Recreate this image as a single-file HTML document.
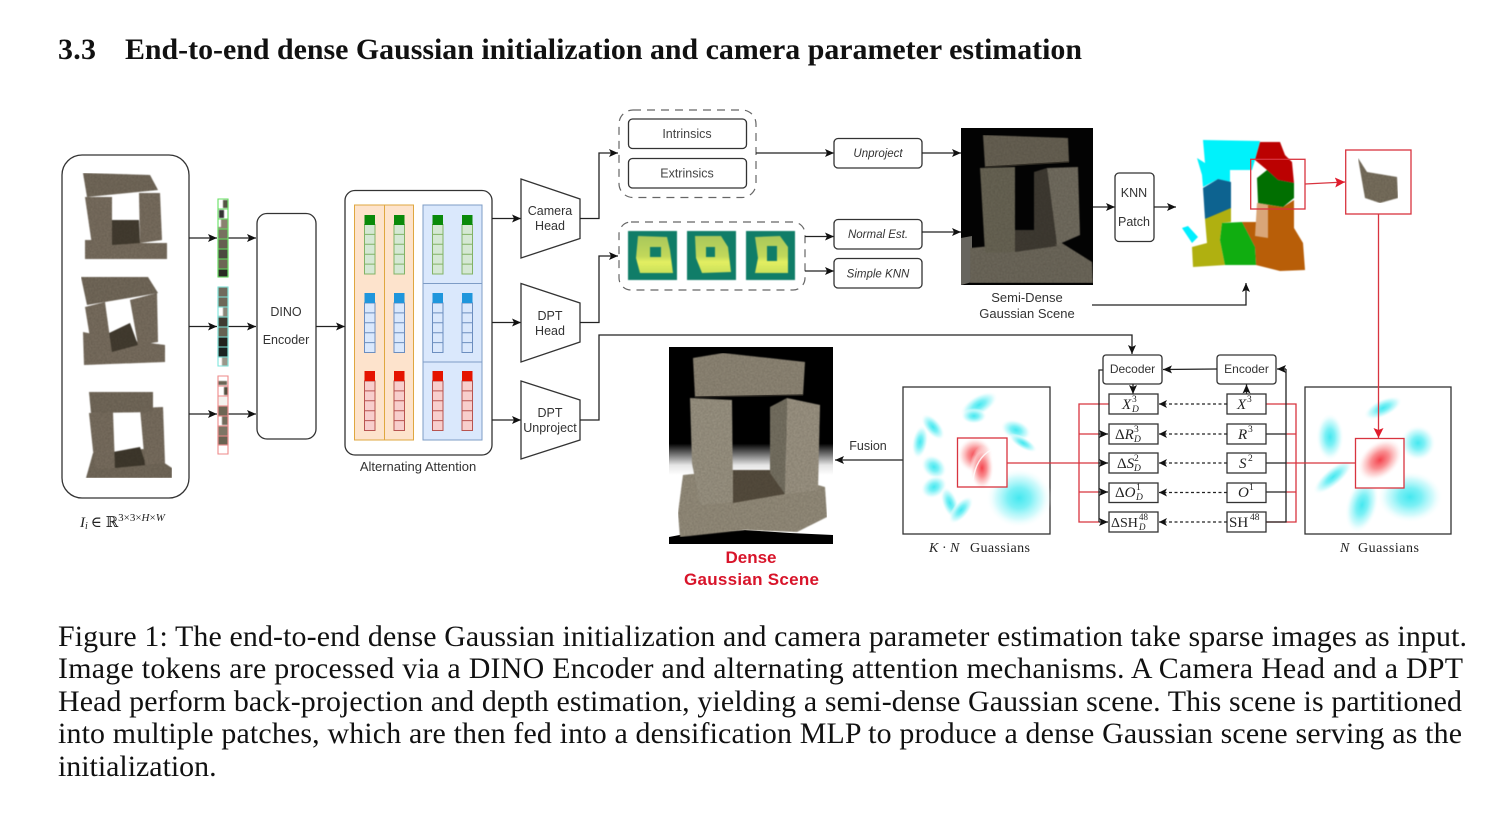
<!DOCTYPE html>
<html><head><meta charset="utf-8"><style>
html,body{margin:0;padding:0;background:#fff}
svg{display:block}
.s{font-family:"Liberation Sans",sans-serif;font-size:12.5px;fill:#333;text-anchor:middle}
.t{font-family:"Liberation Serif",serif;font-size:29.9px;fill:#111}
.m{font-family:"Liberation Serif","DejaVu Serif",serif;fill:#222}
.i{font-style:italic}
.l{fill:none;stroke:#222;stroke-width:1.3}
.r{fill:none;stroke:#d8343f;stroke-width:1.3}
.b{fill:#fff;stroke:#333;stroke-width:1.3}
</style></head><body>
<svg xmlns="http://www.w3.org/2000/svg" width="1511" height="813" viewBox="0 0 1511 813">
<defs>
<marker id="a" markerUnits="userSpaceOnUse" markerWidth="12" markerHeight="10" refX="9" refY="5" orient="auto"><path d="M0 1L9 5L0 9L2 5z" fill="#111"/></marker>
<marker id="ar" markerUnits="userSpaceOnUse" markerWidth="13" markerHeight="12" refX="10" refY="6" orient="auto"><path d="M0 1L10 6L0 11L2 6z" fill="#e01c2c"/></marker>
<filter id="st" x="0" y="0" width="100%" height="100%" color-interpolation-filters="sRGB"><feTurbulence type="fractalNoise" baseFrequency="0.7" numOctaves="2" seed="4" result="n"/><feColorMatrix in="n" type="matrix" values="0 0 0 0 0.1 0 0 0 0 0.08 0 0 0 0 0.05 0.4 0 0 0 -0.08" result="d"/><feComposite in="d" in2="SourceAlpha" operator="in" result="dd"/><feMerge result="m"><feMergeNode in="SourceGraphic"/><feMergeNode in="dd"/></feMerge><feGaussianBlur in="m" stdDeviation="0.6"/></filter>
<filter id="bl" color-interpolation-filters="sRGB"><feGaussianBlur stdDeviation="0.6"/></filter>
<radialGradient id="cy"><stop offset="0" stop-color="#45e8f0"/><stop offset=".35" stop-color="#7cf0f5"/><stop offset=".7" stop-color="#c8f9fb" stop-opacity=".8"/><stop offset="1" stop-color="#fff" stop-opacity="0"/></radialGradient>
<radialGradient id="rd"><stop offset="0" stop-color="#f4444e"/><stop offset=".4" stop-color="#f98f92"/><stop offset=".72" stop-color="#fdd4d4" stop-opacity=".8"/><stop offset="1" stop-color="#fff" stop-opacity="0"/></radialGradient>
<linearGradient id="dn" x1="0" y1="0" x2="0" y2="1"><stop offset="0" stop-color="#000"/><stop offset=".49" stop-color="#000"/><stop offset=".6" stop-color="#e5e5e5"/><stop offset=".65" stop-color="#fff"/><stop offset="1" stop-color="#fff"/></linearGradient>
<linearGradient id="yl" x1="0" y1="0" x2="0" y2="1"><stop offset="0" stop-color="#a9c85c"/><stop offset=".55" stop-color="#c2d85a"/><stop offset=".7" stop-color="#e3ef62"/><stop offset="1" stop-color="#cbe05a"/></linearGradient>
<path id="c" d="M0 0h10.5v49.5h-10.5zM0 9.9h10.5M0 19.8h10.5M0 29.7h10.5M0 39.6h10.5"/>
</defs>
<rect width="1511" height="813" fill="#fff"/>

<!-- heading -->
<text class="t" x="58" y="59" font-weight="bold" textLength="38">3.3</text>
<text class="t" x="125" y="59" font-weight="bold" textLength="957">End-to-end dense Gaussian initialization and camera parameter estimation</text>

<!-- input box -->
<rect class="b" x="62" y="155" width="127" height="343" rx="20"/>
<g filter="url(#st)">
<polygon fill="#7d7263" points="85,240 112,240 140,243 167,243 167,259 85,259"/>
<polygon fill="#453e32" points="112,220 139,220 140,243 112,245"/>
<polygon fill="#7d7263" points="85,197 112,197 112,245 92,245"/>
<polygon fill="#7d7263" points="139,193 160,193 162,240 140,243"/>
<polygon fill="#776d5e" points="83,173 150,175 158,190 87,197"/>
<polygon fill="#7d7263" points="83,332 112,338 165,345 165,362 84,365"/>
<polygon fill="#453e32" points="105,335 130,323 138,345 112,352"/>
<polygon fill="#7d7263" points="85,307 105,302 112,353 93,356"/>
<polygon fill="#7d7263" points="130,300 157,293 158,342 138,345"/>
<polygon fill="#776d5e" points="81,277 148,277 158,293 87,305"/>
<polygon fill="#776d5e" points="93,453 113,453 143,449 163,462 172,468 172,478 86,478"/>
<polygon fill="#403a2e" points="113,452 140,447 146,465 115,468"/>
<polygon fill="#7d7263" points="89,413 113,412 115,468 95,469"/>
<polygon fill="#7d7263" points="140,408 163,407 165,463 145,465"/>
<polygon fill="#776d5e" points="89,392 153,392 153,412 91,413"/>
</g>
<text class="m" x="80" y="527" font-size="15"><tspan class="i">I</tspan><tspan class="i" font-size="10" dy="2">i</tspan><tspan dy="-2" dx="3">∈ ℝ</tspan><tspan font-size="11" dy="-6">3×3×<tspan class="i">H</tspan>×<tspan class="i">W</tspan></tspan></text>

<!-- arrows -->
<line class="l" x1="189" y1="238" x2="217" y2="238" marker-end="url(#a)"/>
<line class="l" x1="189" y1="326.5" x2="217" y2="326.5" marker-end="url(#a)"/>
<line class="l" x1="189" y1="414" x2="217" y2="414" marker-end="url(#a)"/>
<line class="l" x1="228" y1="238" x2="256" y2="238" marker-end="url(#a)"/>
<line class="l" x1="228" y1="326.5" x2="256" y2="326.5" marker-end="url(#a)"/>
<line class="l" x1="228" y1="414" x2="256" y2="414" marker-end="url(#a)"/>

<!-- token strips -->
<g filter="url(#bl)">
<rect x="218" y="199" width="10" height="78" fill="#777"/>
<rect x="218" y="199" width="10" height="10" fill="#fff"/><rect x="223" y="200" width="5" height="8" fill="#554"/>
<rect x="218" y="209" width="10" height="10" fill="#fff"/><rect x="219" y="210" width="5" height="8" fill="#333"/>
<rect x="218" y="219" width="10" height="10" fill="#8a8270"/><rect x="218" y="219" width="3" height="8" fill="#fff"/>
<rect x="218" y="229" width="10" height="10" fill="#77715f"/><rect x="218" y="239" width="10" height="10" fill="#666050"/>
<rect x="218" y="249" width="10" height="10" fill="#4c4a3f"/><rect x="218" y="259" width="10" height="10" fill="#6c6654"/>
<rect x="218" y="269" width="10" height="8" fill="#2a2a24"/>
<rect x="218" y="287" width="10" height="10" fill="#706a5c"/><rect x="218" y="297" width="10" height="10" fill="#6e6858"/>
<rect x="218" y="307" width="10" height="10" fill="#8a8678"/><rect x="218" y="307" width="5" height="9" fill="#fff"/>
<rect x="218" y="317" width="10" height="10" fill="#3f3c32"/><rect x="218" y="327" width="10" height="10" fill="#666252"/>
<rect x="218" y="337" width="10" height="10" fill="#22221d"/><rect x="218" y="347" width="10" height="10" fill="#1a2220"/>
<rect x="218" y="357" width="10" height="9" fill="#9a978a"/><rect x="218" y="357" width="4" height="9" fill="#fff"/>
<rect x="218" y="376" width="10" height="10" fill="#fff"/><rect x="218" y="381" width="9" height="4" fill="#6a6555"/>
<rect x="218" y="386" width="10" height="10" fill="#fff"/><rect x="224" y="387" width="4" height="8" fill="#554f40"/>
<rect x="218" y="396" width="10" height="10" fill="#f4f2ee"/><rect x="218" y="406" width="10" height="10" fill="#6e6654"/>
<rect x="218" y="416" width="10" height="10" fill="#fff"/><rect x="222" y="416" width="6" height="9" fill="#736c5b"/>
<rect x="218" y="426" width="10" height="10" fill="#7d7564"/><rect x="218" y="436" width="10" height="9" fill="#6a6352"/>
<rect x="218" y="445" width="10" height="9" fill="#fff"/>
</g>
<path d="M218 199h10v78h-10zM218 209h10M218 219h10M218 229h10M218 239h10M218 249h10M218 259h10M218 269h10" fill="none" stroke="#65e060" stroke-width="1.1"/>
<path d="M218 287h10v79h-10zM218 297h10M218 307h10M218 317h10M218 327h10M218 337h10M218 347h10M218 357h10" fill="none" stroke="#7de5dc" stroke-width="1.1"/>
<path d="M218 376h10v78h-10zM218 386h10M218 396h10M218 406h10M218 416h10M218 426h10M218 436h10M218 445h10" fill="none" stroke="#ee8a8a" stroke-width="1.1"/>

<!-- DINO -->
<rect class="b" x="257" y="213.500" width="59" height="225.500" rx="10"/>
<text class="s" x="286" y="316">DINO</text>
<text class="s" x="286" y="344">Encoder</text>
<line class="l" x1="316" y1="326.500" x2="345" y2="326.500" marker-end="url(#a)"/>

<!-- Alternating attention -->
<rect class="b" x="345" y="190.500" width="147" height="264.500" rx="10"/>
<rect x="354.500" y="205" width="59" height="235" fill="#fde3cc" stroke="#dfa73f"/>
<line x1="384.500" y1="205" x2="384.500" y2="440" stroke="#dfa73f"/>
<rect x="423" y="205" width="59" height="235" fill="#dae8fc" stroke="#7d9cc6"/>
<path d="M423 283.500H482M423 362H482" stroke="#7d9cc6" fill="none"/>
<g fill="#d5e8d4" stroke="#82b366">
<use href="#c" x="364.500" y="224.500"/><use href="#c" x="394" y="224.500"/><use href="#c" x="432.500" y="224.500"/><use href="#c" x="462" y="224.500"/>
</g>
<g fill="#0a8a0a"><rect x="364.500" y="215" width="10.500" height="10"/><rect x="394" y="215" width="10.500" height="10"/><rect x="432.500" y="215" width="10.500" height="10"/><rect x="462" y="215" width="10.500" height="10"/></g>
<g fill="#dae8fc" stroke="#6c8ebf">
<use href="#c" x="364.500" y="303"/><use href="#c" x="394" y="303"/><use href="#c" x="432.500" y="303"/><use href="#c" x="462" y="303"/>
</g>
<g fill="#1f96dc"><rect x="364.500" y="293" width="10.500" height="10"/><rect x="394" y="293" width="10.500" height="10"/><rect x="432.500" y="293" width="10.500" height="10"/><rect x="462" y="293" width="10.500" height="10"/></g>
<g fill="#f8cecc" stroke="#b85450">
<use href="#c" x="364.500" y="381"/><use href="#c" x="394" y="381"/><use href="#c" x="432.500" y="381"/><use href="#c" x="462" y="381"/>
</g>
<g fill="#e51400"><rect x="364.500" y="371" width="10.500" height="10"/><rect x="394" y="371" width="10.500" height="10"/><rect x="432.500" y="371" width="10.500" height="10"/><rect x="462" y="371" width="10.500" height="10"/></g>
<text class="s" x="418" y="471" style="font-size:13px">Alternating Attention</text>

<line class="l" x1="492" y1="218.500" x2="521" y2="218.500" marker-end="url(#a)"/>
<line class="l" x1="492" y1="322.500" x2="521" y2="322.500" marker-end="url(#a)"/>
<line class="l" x1="492" y1="420" x2="521" y2="420" marker-end="url(#a)"/>

<!-- heads -->
<polygon class="b" points="521,179 580,199 580,238.500 521,258"/>
<polygon class="b" points="521,283.500 580,303 580,342 521,362"/>
<polygon class="b" points="521,381 580,400 580,440 521,459"/>
<text class="s" x="550" y="215">Camera</text><text class="s" x="550" y="230">Head</text>
<text class="s" x="550" y="320">DPT</text><text class="s" x="550" y="335">Head</text>
<text class="s" x="550" y="417">DPT</text><text class="s" x="550" y="432">Unproject</text>

<polyline class="l" points="580,218.500 599,218.500 599,153 618,153" marker-end="url(#a)"/>
<polyline class="l" points="580,322.500 599,322.500 599,256 618,256" marker-end="url(#a)"/>
<polyline class="l" points="580,420 599,420 599,335 1132,335 1132,354" marker-end="url(#a)"/>

<!-- camera params -->
<rect x="619" y="110" width="137" height="87.500" rx="14" fill="none" stroke="#666" stroke-width="1.200" stroke-dasharray="8 6"/>
<rect class="b" x="628.500" y="119" width="118" height="29.500" rx="4"/>
<rect class="b" x="628.500" y="158.500" width="118" height="29.500" rx="4"/>
<text class="s" x="687" y="138" style="fill:#444">Intrinsics</text>
<text class="s" x="687" y="177.500" style="fill:#444">Extrinsics</text>
<line class="l" x1="756" y1="153" x2="834" y2="153" marker-end="url(#a)"/>
<rect class="b" x="834" y="138.500" width="88" height="29.500" rx="4"/>
<text class="s i" x="878" y="157" style="font-size:11.500px">Unproject</text>
<line class="l" x1="922" y1="153" x2="961" y2="153" marker-end="url(#a)"/>

<!-- normal maps -->
<rect x="619" y="222" width="186" height="68" rx="12" fill="none" stroke="#666" stroke-width="1.200" stroke-dasharray="8 6"/>
<g filter="url(#bl)">
<rect x="628" y="231" width="49" height="49" fill="#107d68"/><rect x="687" y="231" width="49" height="49" fill="#107d68"/><rect x="746" y="231" width="49" height="49" fill="#107d68"/>
<polygon fill="url(#yl)" points="638,236 667,237 670,250 673,273 640,273 636,258"/>
<polygon fill="url(#yl)" points="695,236 721,236 728,247 731,272 702,273 696,258"/>
<polygon fill="url(#yl)" points="755,237 780,236 788,247 788,273 755,273 758,258"/>
<rect x="650" y="247" width="11" height="10" fill="#107d68"/><rect x="706" y="247" width="9" height="10" fill="#107d68"/><rect x="767" y="246" width="10" height="15" fill="#107d68"/>
</g>
<line class="l" x1="805" y1="236.500" x2="834" y2="236.500" marker-end="url(#a)"/>
<line class="l" x1="805" y1="271" x2="834" y2="271" marker-end="url(#a)"/>
<rect class="b" x="834" y="219.500" width="88" height="29.500" rx="4"/>
<rect class="b" x="834" y="258.500" width="88" height="29.500" rx="4"/>
<text class="s i" x="878" y="238" style="font-size:11.500px">Normal Est.</text>
<text class="s i" x="878" y="277.500" style="font-size:11.500px">Simple KNN</text>
<line class="l" x1="922" y1="232" x2="961" y2="232" marker-end="url(#a)"/>

<!-- semi-dense photo -->
<rect x="961" y="128" width="132" height="157" fill="#030303"/>
<polygon fill="#67655f" points="961,238 972,236 972,282 961,285"/>
<g filter="url(#st)">
<polygon fill="#716c5f" points="970,248 1057,240 1092,262 1093,283 970,283"/>
<polygon fill="#403c34" points="1015,230 1040,230 1057,246 1015,252"/>
<polygon fill="#6c6858" points="980,168 1015,167 1015,252 985,253"/>
<polygon fill="#403c34" points="1034,172 1047,168 1057,245 1034,232"/>
<polygon fill="#767164" points="1047,168 1078,167 1080,235 1057,245"/>
<polygon fill="#6b6557" points="983,135 1068,138 1069,162 985,167"/>
</g>
<line x1="985" y1="167" x2="1069" y2="162" stroke="#2e2a22" stroke-width="1.200"/>
<text class="s" x="1027" y="302" style="font-size:13px">Semi-Dense</text>
<text class="s" x="1027" y="318" style="font-size:13px">Gaussian Scene</text>
<polyline class="l" points="1092,305 1246,305 1246,283" marker-end="url(#a)"/>
<line class="l" x1="1093" y1="207" x2="1115" y2="207" marker-end="url(#a)"/>
<rect class="b" x="1115" y="173" width="39" height="68.500" rx="4"/>
<text class="s" x="1134" y="197">KNN</text><text class="s" x="1134" y="226">Patch</text>
<line class="l" x1="1154" y1="207" x2="1176" y2="207" marker-end="url(#a)"/>

<!-- segmented -->
<g filter="url(#bl)">
<polygon fill="#00f2fb" points="1203,140 1260,141 1255,160 1252,170 1230,170 1230,182 1218,179 1203,187 1202,175 1197,158 1205,163"/>
<polygon fill="#bb0101" points="1260,142 1280,142 1285,155 1292,162 1294,183 1278,180 1267,170 1255,160"/>
<polygon fill="#016f01" points="1267,170 1278,180 1294,183 1294,198 1283,207 1258,203 1257,178"/>
<polygon fill="#0d6390" points="1218,179 1231,182 1231,210 1205,219 1203,188"/>
<polygon fill="#b0b010" points="1205,219 1231,208 1231,222 1222,223 1220,240 1225,265 1193,267 1192,247 1207,243"/>
<polygon fill="#00efff" points="1182,228 1188,226 1198,237 1192,243"/>
<polygon fill="#10ad10" points="1222,223 1242,222 1255,247 1256,265 1225,265 1220,240"/>
<polygon fill="#b85e08" points="1242,222 1257,222 1257,203 1283,207 1294,200 1294,228 1303,243 1305,270 1280,271 1256,265 1255,247"/>
<polygon fill="#d9a679" points="1257,203 1268,205 1268,238 1255,236"/>
</g>
<rect class="r" x="1250.700" y="159.300" width="54.300" height="49.700"/>
<line class="r" x1="1305" y1="184" x2="1345" y2="182" stroke="#e01c2c" marker-end="url(#ar)"/>
<rect class="r" x="1345.700" y="150" width="65.300" height="64"/>
<polygon filter="url(#st)" fill="#7d7462" points="1358,158 1367,172 1397,177 1398,198 1380,203 1365,198"/>

<!-- dense photo -->
<rect x="669" y="347" width="164" height="197" fill="url(#dn)"/>
<polygon fill="#000" points="669,544 833,544 833,535 790,533 745,530 685,534 669,537"/>
<g filter="url(#st)">
<polygon fill="#9a9280" points="683,475 733,470 770,472 825,487 827,517 797,532 745,530 680,537 678,513"/>
<polygon fill="#584f40" points="733,470 770,470 785,494 733,503"/>
<polygon fill="#a09988" points="690,398 732,400 733,502 700,505 692,463"/>
<polygon fill="#7a7566" points="770,407 787,398 785,494 770,473"/>
<polygon fill="#a29a89" points="787,398 820,405 818,490 785,494"/>
<polygon fill="#948c7b" points="693,358 723,353 805,362 803,395 695,397"/>
</g>
<line x1="695" y1="397" x2="803" y2="395" stroke="#2a2620" stroke-width="1.200"/>
<text x="751" y="563" font-family="Liberation Sans, sans-serif" font-weight="bold" font-size="17" fill="#d8142a" text-anchor="middle">Dense</text>
<text x="684" y="585" font-family="Liberation Sans, sans-serif" font-weight="bold" font-size="17" fill="#d8142a" textLength="135">Gaussian Scene</text>
<line class="l" x1="903" y1="460" x2="835" y2="460" marker-end="url(#a)"/>
<text class="s" x="868" y="450">Fusion</text>

<!-- K N box -->
<rect class="b" x="903" y="387" width="147" height="147"/>
<g fill="url(#cy)">
<ellipse cx="979" cy="405" rx="21" ry="10" transform="rotate(-30 979 405)"/>
<ellipse cx="974" cy="416" rx="13" ry="8"/>
<ellipse cx="933" cy="427" rx="16" ry="8" transform="rotate(50 933 427)"/>
<ellipse cx="920" cy="442" rx="8" ry="17" transform="rotate(10 920 442)"/>
<ellipse cx="1016" cy="430" rx="16" ry="10" transform="rotate(20 1016 430)"/>
<ellipse cx="1023" cy="443" rx="16" ry="6" transform="rotate(30 1023 443)"/>
<ellipse cx="934" cy="467" rx="14" ry="11" transform="rotate(40 934 467)"/>
<ellipse cx="934" cy="487" rx="14" ry="11" transform="rotate(-30 934 487)"/>
<ellipse cx="950" cy="503" rx="8" ry="17" transform="rotate(-20 950 503)"/>
<ellipse cx="961" cy="510" rx="8" ry="17" transform="rotate(40 961 510)"/>
<ellipse cx="1019" cy="498" rx="33" ry="30"/>
</g>
<rect x="958" y="438.500" width="48.500" height="48" fill="#fff"/>
<g fill="url(#rd)">
<ellipse cx="975" cy="455" rx="18" ry="18"/>
<ellipse cx="982" cy="468" rx="12" ry="22"/>
</g>
<path d="M973 480Q976 458 991 450" fill="none" stroke="#fff" stroke-width="1.500" opacity=".8"/>
<rect class="r" x="957.500" y="438" width="49.500" height="49"/>
<text class="m i" x="929" y="552" font-size="14">K</text><text class="m" x="942" y="552" font-size="14">·</text><text class="m i" x="950" y="552" font-size="14">N</text>
<text class="m" x="970" y="552" font-size="14" textLength="60">Guassians</text>

<!-- N box -->
<rect class="b" x="1305" y="387" width="146" height="147"/>
<g fill="url(#cy)">
<ellipse cx="1383" cy="408" rx="21" ry="9" transform="rotate(-25 1383 408)"/>
<ellipse cx="1330" cy="437" rx="14" ry="24"/>
<ellipse cx="1418" cy="443" rx="18" ry="18"/>
<ellipse cx="1333" cy="477" rx="25" ry="9" transform="rotate(-40 1333 477)"/>
<ellipse cx="1362" cy="505" rx="16" ry="29" transform="rotate(15 1362 505)"/>
<ellipse cx="1410" cy="497" rx="33" ry="26"/>
</g>
<rect x="1356" y="439" width="47.500" height="48.500" fill="#fff"/>
<ellipse cx="1380" cy="460" rx="26" ry="18" transform="rotate(-40 1380 460)" fill="url(#rd)"/>
<rect class="r" x="1355.500" y="438.500" width="48.500" height="49.500"/>
<text class="m i" x="1340" y="552" font-size="14">N</text>
<text class="m" x="1358" y="552" font-size="14" textLength="61">Guassians</text>
<line x1="1378.500" y1="214" x2="1378.500" y2="438" stroke="#d8343f" stroke-width="1.300" marker-end="url(#ar)"/>

<!-- red wiring -->
<path class="r" d="M1007 463H1099M1109 404H1079V522H1099M1079 434H1099M1079 492H1099"/>
<path class="r" d="M1266 404H1296V522H1266M1286 434H1296M1286 492H1296M1355 463H1286"/>
<!-- black wiring -->
<path class="l" d="M1104 370H1099V522"/>
<line class="l" x1="1099" y1="434" x2="1108" y2="434" marker-end="url(#a)"/>
<line class="l" x1="1099" y1="463" x2="1108" y2="463" marker-end="url(#a)"/>
<line class="l" x1="1099" y1="492" x2="1108" y2="492" marker-end="url(#a)"/>
<line class="l" x1="1099" y1="522" x2="1108" y2="522" marker-end="url(#a)"/>
<path class="l" d="M1266 434H1286M1266 463H1286M1266 492H1286M1266 522H1286V369"/>
<line class="l" x1="1286" y1="369" x2="1277" y2="369" marker-end="url(#a)"/>

<!-- encoder / decoder -->
<rect class="b" x="1103" y="355" width="59" height="29" rx="3"/>
<rect class="b" x="1217" y="355" width="59" height="29" rx="3"/>
<text class="s" x="1132.500" y="373" style="font-size:12px">Decoder</text>
<text class="s" x="1246.500" y="373" style="font-size:12px">Encoder</text>
<line class="l" x1="1217" y1="369" x2="1163" y2="369.500" marker-end="url(#a)"/>
<line class="l" x1="1133" y1="384" x2="1133" y2="394" marker-end="url(#a)"/>
<line class="l" x1="1246.500" y1="394" x2="1246.500" y2="384.500" marker-end="url(#a)"/>

<!-- attribute boxes -->
<g>
<rect class="b" x="1109" y="394" width="49" height="20"/><rect class="b" x="1109" y="424" width="49" height="20"/><rect class="b" x="1109" y="453" width="49" height="20"/><rect class="b" x="1109" y="483" width="49" height="19.500"/><rect class="b" x="1109" y="512" width="49" height="20"/>
<rect class="b" x="1227" y="394" width="39" height="20"/><rect class="b" x="1227" y="424" width="39" height="20"/><rect class="b" x="1227" y="453" width="39" height="20"/><rect class="b" x="1227" y="483" width="39" height="19.500"/><rect class="b" x="1227" y="512" width="39" height="20"/>
</g>
<g stroke-dasharray="3 2.500">
<line class="l" x1="1227" y1="404" x2="1159" y2="404"/><line class="l" x1="1227" y1="434" x2="1159" y2="434"/><line class="l" x1="1227" y1="463" x2="1159" y2="463"/><line class="l" x1="1227" y1="492.500" x2="1159" y2="492.500"/><line class="l" x1="1227" y1="522" x2="1159" y2="522"/>
</g>
<g fill="#111"><path d="M1159 404l8-4-2 4 2 4z"/><path d="M1159 434l8-4-2 4 2 4z"/><path d="M1159 463l8-4-2 4 2 4z"/><path d="M1159 492.500l8-4-2 4 2 4z"/><path d="M1159 522l8-4-2 4 2 4z"/></g>

<g class="m" font-size="15">
<text class="i" x="1122" y="409">X</text><text x="1132" y="402" font-size="9.500">3</text><text class="i" x="1132" y="412" font-size="9.500">D</text>
<text x="1115" y="439">Δ<tspan class="i">R</tspan></text><text x="1134" y="432" font-size="9.500">3</text><text class="i" x="1134" y="442" font-size="9.500">D</text>
<text x="1117" y="468">Δ<tspan class="i">S</tspan></text><text x="1134" y="461" font-size="9.500">2</text><text class="i" x="1134" y="471" font-size="9.500">D</text>
<text x="1115" y="497">Δ<tspan class="i">O</tspan></text><text x="1136" y="490" font-size="9.500">1</text><text class="i" x="1136" y="500" font-size="9.500">D</text>
<text x="1111" y="527" font-size="14">ΔSH</text><text x="1139" y="520" font-size="9">48</text><text class="i" x="1139" y="530" font-size="9">D</text>
<text class="i" x="1237" y="409">X</text><text x="1247" y="402" font-size="9.500">3</text>
<text class="i" x="1238" y="439">R</text><text x="1248" y="432" font-size="9.500">3</text>
<text class="i" x="1239" y="468">S</text><text x="1248" y="461" font-size="9.500">2</text>
<text class="i" x="1238" y="497">O</text><text x="1249" y="490" font-size="9.500">1</text>
<text x="1229" y="527" font-size="15">SH</text><text x="1250" y="520" font-size="9.500">48</text>
</g>

<!-- caption -->
<text class="t" x="58" y="646" textLength="1409">Figure 1: The end-to-end dense Gaussian initialization and camera parameter estimation take sparse images as input.</text>
<text class="t" x="58" y="678" textLength="1405">Image tokens are processed via a DINO Encoder and alternating attention mechanisms. A Camera Head and a DPT</text>
<text class="t" x="58" y="711" textLength="1404">Head perform back-projection and depth estimation, yielding a semi-dense Gaussian scene. This scene is partitioned</text>
<text class="t" x="58" y="743" textLength="1404">into multiple patches, which are then fed into a densification MLP to produce a dense Gaussian scene serving as the</text>
<text class="t" x="58" y="776">initialization.</text>
</svg>
</body></html>
